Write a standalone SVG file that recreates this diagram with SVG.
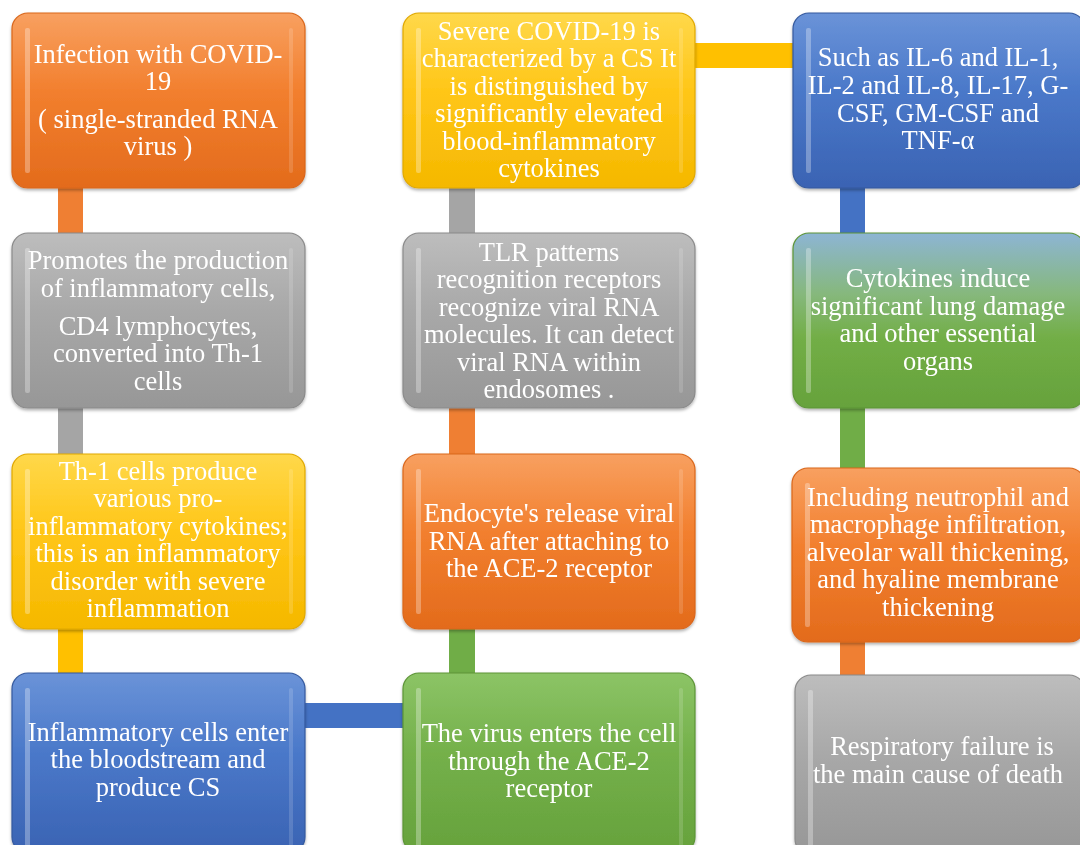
<svg xmlns="http://www.w3.org/2000/svg" width="1080" height="845" viewBox="0 0 1080 845">
<style>
.t{font-family:"Liberation Serif","Times New Roman",serif;font-size:26.5px;fill:#ffffff;text-anchor:middle}
.hl{fill:#ffffff;opacity:0.3}
.hr{fill:#ffffff;opacity:0.15}
.box{stroke-width:1.2}
</style>
<defs>
<linearGradient id="gO" x1="0" y1="0" x2="0" y2="1"><stop offset="0" stop-color="#F8A060"/><stop offset="0.45" stop-color="#F27F2E"/><stop offset="1" stop-color="#E36B1C"/></linearGradient>
<linearGradient id="gG" x1="0" y1="0" x2="0" y2="1"><stop offset="0" stop-color="#BDBDBD"/><stop offset="0.45" stop-color="#A8A8A8"/><stop offset="1" stop-color="#979797"/></linearGradient>
<linearGradient id="gY" x1="0" y1="0" x2="0" y2="1"><stop offset="0" stop-color="#FFD84A"/><stop offset="0.45" stop-color="#FFC617"/><stop offset="1" stop-color="#F5B800"/></linearGradient>
<linearGradient id="gB" x1="0" y1="0" x2="0" y2="1"><stop offset="0" stop-color="#6A93D8"/><stop offset="0.45" stop-color="#4A78C9"/><stop offset="1" stop-color="#3A63B3"/></linearGradient>
<linearGradient id="gN" x1="0" y1="0" x2="0" y2="1"><stop offset="0" stop-color="#8CC466"/><stop offset="0.45" stop-color="#74B04A"/><stop offset="1" stop-color="#66A23C"/></linearGradient>
<linearGradient id="gNB" x1="0" y1="0" x2="0" y2="1"><stop offset="0" stop-color="#8DB5D4"/><stop offset="0.35" stop-color="#86B87C"/><stop offset="0.6" stop-color="#72AE46"/><stop offset="1" stop-color="#66A23C"/></linearGradient>
<filter id="sh" x="-5%" y="-5%" width="110%" height="115%"><feDropShadow dx="0" dy="2" stdDeviation="1.5" flood-color="#000" flood-opacity="0.3"/></filter>
</defs>

<g id="connectors">
<rect x="58" y="185" width="25" height="52" fill="#EF7F33"/>
<rect x="58" y="405" width="25" height="52" fill="#A5A5A5"/>
<rect x="58" y="626" width="25" height="50" fill="#FFC000"/>
<rect x="449" y="185" width="26" height="52" fill="#A5A5A5"/>
<rect x="449" y="405" width="26" height="52" fill="#EF7F33"/>
<rect x="449" y="626" width="26" height="50" fill="#70AD47"/>
<rect x="840" y="185" width="25" height="52" fill="#4472C4"/>
<rect x="840" y="405" width="25" height="66" fill="#70AD47"/>
<rect x="840" y="639" width="25" height="39" fill="#EF7F33"/>
<rect x="692" y="43" width="104" height="25" fill="#FFC000"/>
<rect x="302" y="703" width="104" height="25" fill="#4472C4"/>
</g>

<g id="n1" filter="url(#sh)">
<rect class="box" x="12" y="13" width="293" height="175" rx="16" fill="url(#gO)" stroke="#D9661A"/>
<rect class="hl" x="25" y="28" width="5" height="145" rx="2"/>
<rect class="hr" x="289" y="28" width="4" height="145" rx="2"/>
<text class="t" x="158" y="63">Infection with COVID-</text>
<text class="t" x="158" y="90">19</text>
<text class="t" x="158" y="128">( single-stranded RNA</text>
<text class="t" x="158" y="155">virus )</text>
</g>

<g id="n2" filter="url(#sh)">
<rect class="box" x="12" y="233" width="293" height="175" rx="16" fill="url(#gG)" stroke="#8A8A8A"/>
<rect class="hl" x="25" y="248" width="5" height="145" rx="2"/>
<rect class="hr" x="289" y="248" width="4" height="145" rx="2"/>
<text class="t" x="158" y="269">Promotes the production</text>
<text class="t" x="158" y="297">of inflammatory cells,</text>
<text class="t" x="158" y="335">CD4 lymphocytes,</text>
<text class="t" x="158" y="362">converted into Th-1</text>
<text class="t" x="158" y="390">cells</text>
</g>

<g id="n3" filter="url(#sh)">
<rect class="box" x="12" y="454" width="293" height="175" rx="16" fill="url(#gY)" stroke="#E0A800"/>
<rect class="hl" x="25" y="469" width="5" height="145" rx="2"/>
<rect class="hr" x="289" y="469" width="4" height="145" rx="2"/>
<text class="t" x="158" y="480">Th-1 cells produce</text>
<text class="t" x="158" y="507">various pro-</text>
<text class="t" x="158" y="535">inflammatory cytokines;</text>
<text class="t" x="158" y="562">this is an inflammatory</text>
<text class="t" x="158" y="590">disorder with severe</text>
<text class="t" x="158" y="617">inflammation</text>
</g>

<g id="n4" filter="url(#sh)">
<rect class="box" x="12" y="673" width="293" height="180" rx="16" fill="url(#gB)" stroke="#34599E"/>
<rect class="hl" x="25" y="688" width="5" height="160" rx="2"/>
<rect class="hr" x="289" y="688" width="4" height="160" rx="2"/>
<text class="t" x="158" y="741">Inflammatory cells enter</text>
<text class="t" x="158" y="768">the bloodstream and</text>
<text class="t" x="158" y="796">produce CS</text>
</g>

<g id="n5" filter="url(#sh)">
<rect class="box" x="403" y="13" width="292" height="175" rx="16" fill="url(#gY)" stroke="#E0A800"/>
<rect class="hl" x="416" y="28" width="5" height="145" rx="2"/>
<rect class="hr" x="679" y="28" width="4" height="145" rx="2"/>
<text class="t" x="549" y="40">Severe COVID-19 is</text>
<text class="t" x="549" y="67">characterized by a CS It</text>
<text class="t" x="549" y="95">is distinguished by</text>
<text class="t" x="549" y="122">significantly elevated</text>
<text class="t" x="549" y="150">blood-inflammatory</text>
<text class="t" x="549" y="177">cytokines</text>
</g>

<g id="n6" filter="url(#sh)">
<rect class="box" x="403" y="233" width="292" height="175" rx="16" fill="url(#gG)" stroke="#8A8A8A"/>
<rect class="hl" x="416" y="248" width="5" height="145" rx="2"/>
<rect class="hr" x="679" y="248" width="4" height="145" rx="2"/>
<text class="t" x="549" y="261">TLR patterns</text>
<text class="t" x="549" y="288">recognition receptors</text>
<text class="t" x="549" y="316">recognize viral RNA</text>
<text class="t" x="549" y="343">molecules. It can detect</text>
<text class="t" x="549" y="371">viral RNA within</text>
<text class="t" x="549" y="398">endosomes .</text>
</g>

<g id="n7" filter="url(#sh)">
<rect class="box" x="403" y="454" width="292" height="175" rx="16" fill="url(#gO)" stroke="#D9661A"/>
<rect class="hl" x="416" y="469" width="5" height="145" rx="2"/>
<rect class="hr" x="679" y="469" width="4" height="145" rx="2"/>
<text class="t" x="549" y="522">Endocyte's release viral</text>
<text class="t" x="549" y="550">RNA after attaching to</text>
<text class="t" x="549" y="577">the ACE-2 receptor</text>
</g>

<g id="n8" filter="url(#sh)">
<rect class="box" x="403" y="673" width="292" height="180" rx="16" fill="url(#gN)" stroke="#5C9436"/>
<rect class="hl" x="416" y="688" width="5" height="160" rx="2"/>
<rect class="hr" x="679" y="688" width="4" height="160" rx="2"/>
<text class="t" x="549" y="742">The virus enters the cell</text>
<text class="t" x="549" y="770">through the ACE-2</text>
<text class="t" x="549" y="797">receptor</text>
</g>

<g id="n9" filter="url(#sh)">
<rect class="box" x="793" y="13" width="292" height="175" rx="16" fill="url(#gB)" stroke="#34599E"/>
<rect class="hl" x="806" y="28" width="5" height="145" rx="2"/>
<text class="t" x="938" y="66">Such as IL-6 and IL-1,</text>
<text class="t" x="938" y="94">IL-2 and IL-8, IL-17, G-</text>
<text class="t" x="938" y="122">CSF, GM-CSF and</text>
<text class="t" x="938" y="149">TNF-α</text>
</g>

<g id="n10" filter="url(#sh)">
<rect class="box" x="793" y="233" width="292" height="175" rx="16" fill="url(#gNB)" stroke="#5C9436"/>
<rect class="hl" x="806" y="248" width="5" height="145" rx="2"/>
<text class="t" x="938" y="287">Cytokines induce</text>
<text class="t" x="938" y="315">significant lung damage</text>
<text class="t" x="938" y="342">and other essential</text>
<text class="t" x="938" y="370">organs</text>
</g>

<g id="n11" filter="url(#sh)">
<rect class="box" x="792" y="468" width="293" height="174" rx="16" fill="url(#gO)" stroke="#D9661A"/>
<rect class="hl" x="805" y="483" width="5" height="144" rx="2"/>
<text class="t" x="938" y="506">Including neutrophil and</text>
<text class="t" x="938" y="533">macrophage infiltration,</text>
<text class="t" x="938" y="561">alveolar wall thickening,</text>
<text class="t" x="938" y="588">and hyaline membrane</text>
<text class="t" x="938" y="616">thickening</text>
</g>

<g id="n12" filter="url(#sh)">
<rect class="box" x="795" y="675" width="290" height="180" rx="16" fill="url(#gG)" stroke="#8A8A8A"/>
<rect class="hl" x="808" y="690" width="5" height="160" rx="2"/>
<text class="t" x="942" y="755"> Respiratory failure is</text>
<text class="t" x="938" y="783">the main cause of death</text>
</g>
</svg>
